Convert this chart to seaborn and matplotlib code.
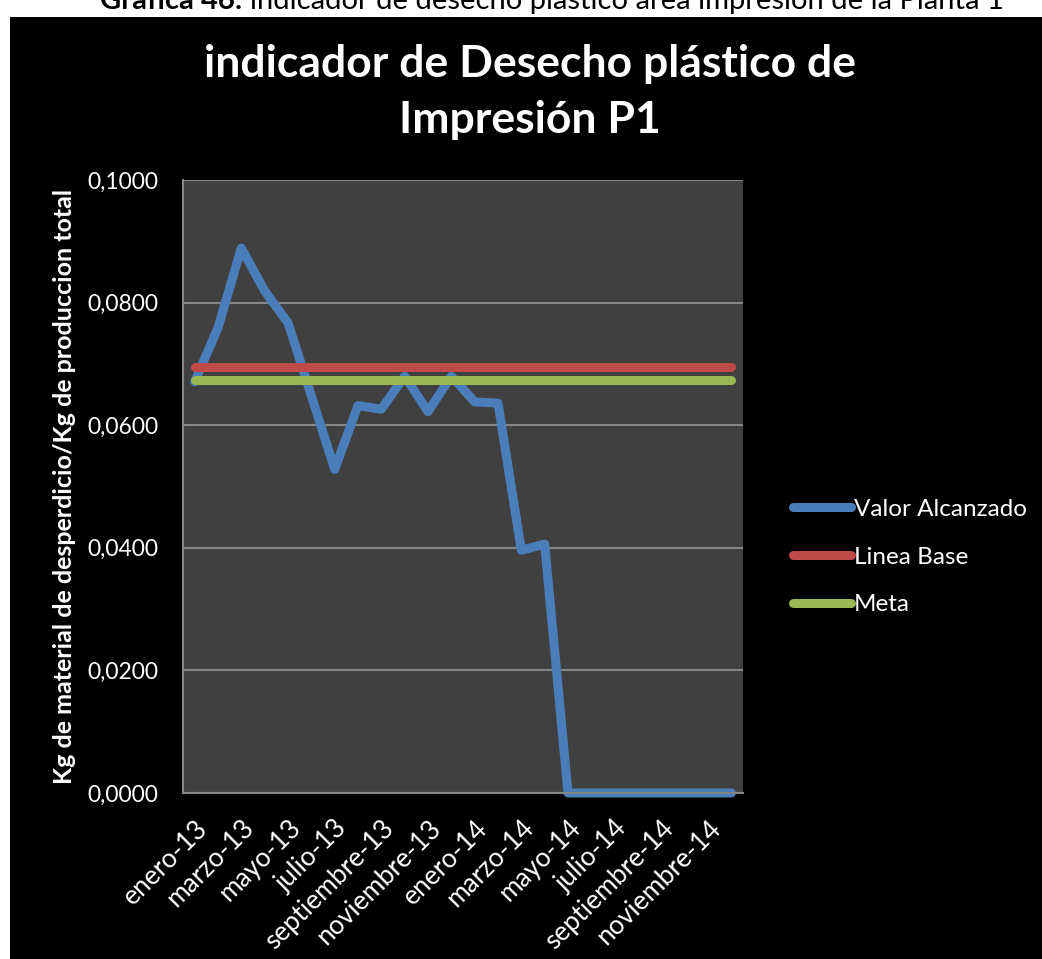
import matplotlib
matplotlib.use("Agg")
import matplotlib.pyplot as plt
import pandas as pd
import seaborn as sns
from matplotlib.patches import Rectangle

# Monthly waste indicator, printing area, plant 1
meses = [
    "enero-13", "febrero-13", "marzo-13", "abril-13", "mayo-13", "junio-13",
    "julio-13", "agosto-13", "septiembre-13", "octubre-13", "noviembre-13", "diciembre-13",
    "enero-14", "febrero-14", "marzo-14", "abril-14", "mayo-14", "junio-14",
    "julio-14", "agosto-14", "septiembre-14", "octubre-14", "noviembre-14", "diciembre-14",
]
valor_alcanzado = [
    0.0671, 0.0759, 0.0889, 0.0819, 0.0767, 0.0648,
    0.0528, 0.0632, 0.0626, 0.0680, 0.0622, 0.0680,
    0.0638, 0.0636, 0.0396, 0.0406, 0.0000, 0.0000,
    0.0000, 0.0000, 0.0000, 0.0000, 0.0000, 0.0000,
]
linea_base = [0.0695] * len(meses)
meta = [0.0674] * len(meses)
y_ticks = [0.0, 0.02, 0.04, 0.06, 0.08, 0.10]

df = pd.DataFrame({
    "mes": meses,
    "pos": range(len(meses)),
    "Valor Alcanzado": valor_alcanzado,
    "Linea Base": linea_base,
    "Meta": meta,
})
largo = df.melt(id_vars=["mes", "pos"], var_name="serie", value_name="valor")

series = ["Valor Alcanzado", "Linea Base", "Meta"]
colores = {"Valor Alcanzado": "#4a7ebb", "Linea Base": "#be4b48", "Meta": "#98b954"}

sns.set_theme(style="dark")
plt.rcParams["font.family"] = ["Lato", "DejaVu Sans"]

fig = plt.figure(figsize=(10.42, 9.59), dpi=100, facecolor="white")
# black chart frame below the caption strip
fig.patches.append(Rectangle((10 / 1042, 0), 1 - 10 / 1042, 1 - 17 / 959,
                             transform=fig.transFigure, facecolor="black",
                             edgecolor="none", zorder=-10))

ax = fig.add_axes([183 / 1042, 1 - 793 / 959, 560 / 1042, 613 / 959])
ax.set_facecolor("#404040")

sns.lineplot(data=largo, x="pos", y="valor", hue="serie", palette=colores,
             hue_order=series, linewidth=6.5, ax=ax, legend=False, sort=False)
for ln in ax.get_lines():
    ln.set_solid_capstyle("round")
    ln.set_solid_joinstyle("round")
    ln.set_clip_on(False)

ax.set_xlim(-0.5, len(meses) - 0.5)
ax.set_ylim(0, 0.1)
ax.set_yticks(y_ticks)
ax.set_yticklabels([f"{v:.4f}".replace(".", ",") for v in y_ticks],
                   color="white", fontsize=16.5)
ax.set_xticks(range(0, len(meses), 2))
ax.set_xticklabels(meses[::2], rotation=45, ha="right", rotation_mode="anchor",
                   color="white", fontsize=19)
ax.tick_params(axis="both", length=0)
ax.tick_params(axis="y", pad=18)
ax.tick_params(axis="x", pad=16)
ax.set_xlabel("")
ax.set_ylabel("")
ax.grid(axis="y", color="#868686", linewidth=1.5)
ax.grid(axis="x", visible=False)
ax.set_axisbelow(True)
for side in ["top", "right"]:
    ax.spines[side].set_visible(False)
for side in ["left", "bottom"]:
    ax.spines[side].set_visible(True)
    ax.spines[side].set_color("#868686")
    ax.spines[side].set_linewidth(1.5)

handles = [plt.Line2D([], [], color=colores[k], linewidth=6.5, solid_capstyle="round")
           for k in series]
leg = fig.legend(handles, series,
                 loc="center left", bbox_to_anchor=(771 / 1042, 1 - 557 / 959),
                 frameon=False, fontsize=17.5, handlelength=2.4, handletextpad=0.1,
                 labelspacing=1.1)
for t in leg.get_texts():
    t.set_color("white")

fig.text(530 / 1042, 1 - 44 / 959, "indicador de Desecho plástico de\nImpresión P1",
         ha="center", va="top", color="white", fontsize=32, fontweight="bold",
         linespacing=1.5)

fig.text(65 / 1042, 1 - 486 / 959, "Kg de material de desperdicio/Kg de produccion total",
         ha="center", va="center", rotation=90, color="white", fontsize=18,
         fontweight="bold")

# caption above the chart frame: bold label followed by regular text
renderer = fig.canvas.get_renderer()
cap_y = 1 - 9 / 959
parte_b = fig.text(0, cap_y, "Gráfica 46: ", color="black", fontsize=21,
                   fontweight="bold", va="baseline")
parte_r = fig.text(0, cap_y, "indicador de desecho plástico área impresión de la Planta 1",
                   color="black", fontsize=21, va="baseline")
wb = parte_b.get_window_extent(renderer).width
wr = parte_r.get_window_extent(renderer).width
x0 = 552 - (wb + wr) / 2
parte_b.set_x(x0 / 1042)
parte_r.set_x((x0 + wb) / 1042)

fig.savefig("out.png", dpi=100, facecolor="white")
